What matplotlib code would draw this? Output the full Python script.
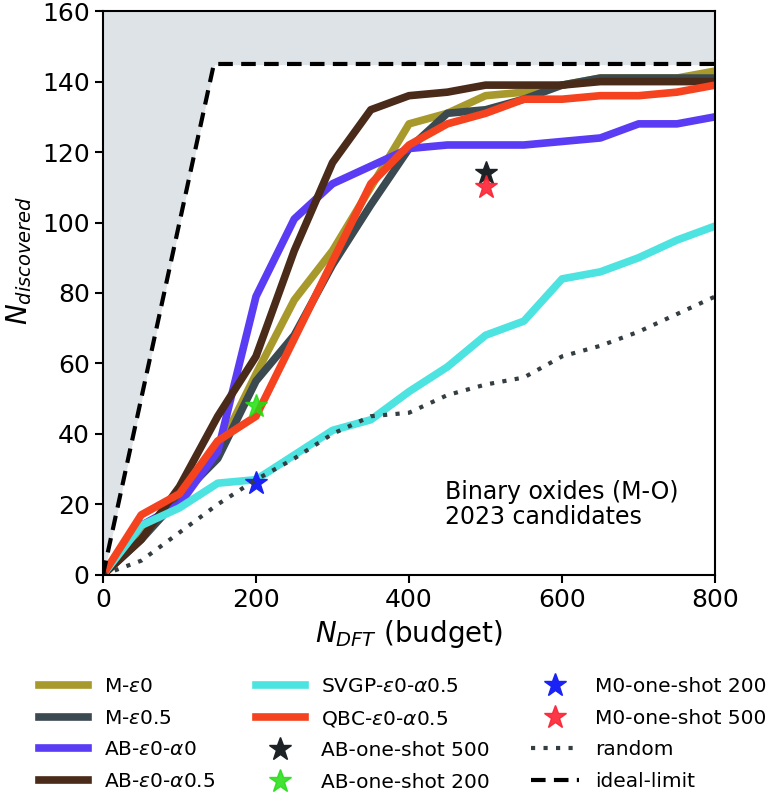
import matplotlib
matplotlib.use("Agg")
import matplotlib.pyplot as plt
import numpy as np

budget = [0, 50, 100, 150, 200, 250, 300, 350, 400, 450, 500, 550, 600, 650, 700, 750, 800]

m_eps0 = [0, 12, 22, 35, 57, 78, 92, 110, 128, 131, 136, 137, 139, 141, 141, 141, 143]
m_eps05 = [0, 10, 22, 33, 55, 68, 88, 105, 121, 131, 132, 135, 139, 141, 141, 141, 141]
ab_eps0_a0 = [0, 14, 20, 35, 79, 101, 111, 116, 121, 122, 122, 122, 123, 124, 128, 128, 130]
ab_eps0_a05 = [0, 10, 25, 45, 62, 92, 117, 132, 136, 137, 139, 139, 139, 140, 140, 140, 140]
svgp = [0, 14, 19, 26, 27, 34, 41, 44, 52, 59, 68, 72, 84, 86, 90, 95, 99]
qbc = [0, 17, 23, 38, 45, 67, 89, 111, 122, 128, 131, 135, 135, 136, 136, 137, 139]
random_sel = [0, 4, 12, 20, 27, 33, 40, 45, 46, 51, 54, 56, 62, 65, 69, 74, 79]

ideal_x = [0, 145, 800]
ideal_y = [0, 145, 145]

# one-shot results (budget, discovered)
ab_shot_500 = (500, 114)
ab_shot_200 = (200, 48)
m0_shot_200 = (200, 26)
m0_shot_500 = (500, 110)

fig = plt.figure(figsize=(7.74, 7.95), dpi=100)
ax = fig.add_axes([0.133, 0.277, 0.791, 0.709])

ax.fill_between(ideal_x, ideal_y, 160, color="#dde3e6", zorder=0)

lw = 5.5
ax.plot(budget, m_eps0, color="#a8992c", lw=lw, label=r"M-$\varepsilon$0")
ax.plot(budget, m_eps05, color="#3b4a50", lw=lw, label=r"M-$\varepsilon$0.5")
ax.plot(budget, ab_eps0_a0, color="#5a3cf5", lw=lw, label=r"AB-$\varepsilon$0-$\alpha$0")
ax.plot(budget, ab_eps0_a05, color="#4a2a19", lw=lw, label=r"AB-$\varepsilon$0-$\alpha$0.5")
ax.plot(budget, svgp, color="#4de3e0", lw=lw, label=r"SVGP-$\varepsilon$0-$\alpha$0.5")
ax.plot(budget, qbc, color="#f5421f", lw=lw, label=r"QBC-$\varepsilon$0-$\alpha$0.5")
ax.plot(*ab_shot_500, ls="none", marker="*", ms=17, color="#1c2226", label="AB-one-shot 500")
ax.plot(*ab_shot_200, ls="none", marker="*", ms=17, color="#22dd11", alpha=0.85, label="AB-one-shot 200")
ax.plot(*m0_shot_200, ls="none", marker="*", ms=17, color="#1a22f5", label="M0-one-shot 200")
ax.plot(*m0_shot_500, ls="none", marker="*", ms=17, color="#fb2233", alpha=0.9, label="M0-one-shot 500")
ax.plot(budget, random_sel, color="#333d42", lw=3, ls=(0, (1, 2)), label="random")
ax.plot(ideal_x, ideal_y, color="black", lw=3, ls=(0, (3.5, 2)), label="ideal-limit")

ax.text(447, 14.5, "Binary oxides (M-O)\n2023 candidates", fontsize=17, linespacing=1.05)

ax.set_xlim(0, 800)
ax.set_ylim(0, 160)
ax.set_xticks([0, 200, 400, 600, 800])
ax.set_yticks(range(0, 161, 20))
ax.tick_params(labelsize=18, width=1.5, length=6)
for s in ax.spines.values():
    s.set_linewidth(1.5)
ax.set_xlabel(r"$N_{DFT}$ (budget)", fontsize=20)
ax.set_ylabel(r"$N_{discovered}$", fontsize=20)
ax.yaxis.set_label_coords(-0.112, 0.557)

ax.legend(loc="upper center", bbox_to_anchor=(0.49, -0.15), ncol=3, frameon=False,
          fontsize=14.5, handlelength=2.4, columnspacing=2.05, labelspacing=0.62)

fig.savefig("out.png", dpi=100)
